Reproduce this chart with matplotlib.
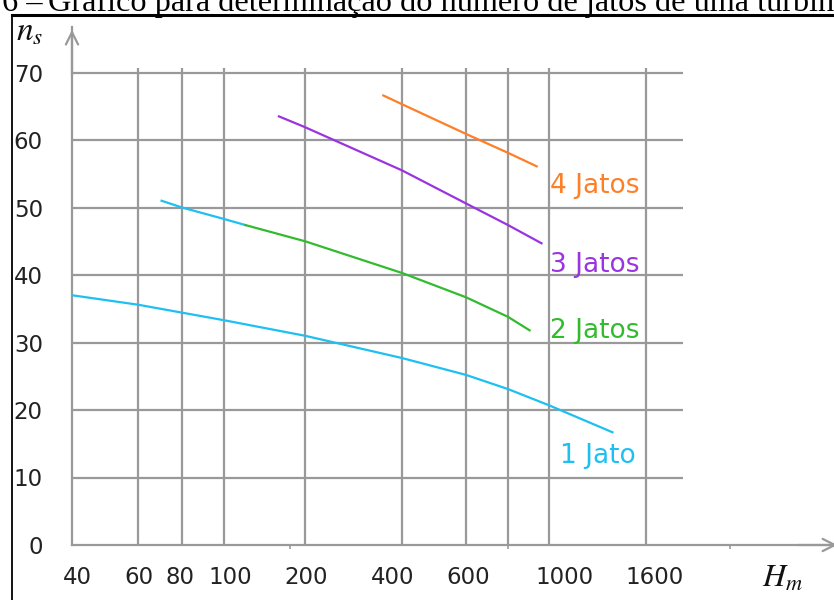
import numpy as np
import matplotlib
matplotlib.use("Agg")
import matplotlib.pyplot as plt
from matplotlib.lines import Line2D
from matplotlib.transforms import ScaledTranslation

plt.rcParams["font.family"] = ["DejaVu Sans"]
plt.rcParams["mathtext.fontset"] = "stix"

# ---- data -------------------------------------------------------------
# heads (m) where the jet-count curves are read, and specific speeds n_s
h_1jato = [40, 60, 100, 200, 400, 600, 800, 1000, 1360]
ns_1jato = [37.0, 35.6, 33.3, 31.0, 27.7, 25.2, 23.1, 20.7, 16.7]

h_2jatos_top = [70, 80, 100, 120]
ns_2jatos_top = [51.0, 50.0, 48.3, 47.4]

h_2jatos = [120, 200, 400, 600, 800, 900]
ns_2jatos = [47.4, 45.0, 40.3, 36.7, 33.8, 31.8]

h_3jatos = [160, 200, 400, 600, 800, 960]
ns_3jatos = [63.5, 61.9, 55.5, 50.6, 47.4, 44.7]

h_4jatos = [350, 400, 600, 800, 935]
ns_4jatos = [66.6, 65.3, 60.9, 58.1, 56.1]

x_ticks = [40, 60, 80, 100, 200, 400, 600, 1000, 1600]
x_grid = [60, 80, 100, 200, 400, 600, 800, 1000, 1600]
y_ticks = [0, 10, 20, 30, 40, 50, 60, 70]

series_labels = ["1 Jato", "2 Jatos", "3 Jatos", "4 Jatos"]
series_colors = ["#1ec0f2", "#33bb2e", "#9a34e0", "#ff7f27"]

# ---- non-uniform logarithmic head axis ---------------------------------
knot_h = np.array([10, 40, 60, 80, 100, 200, 400, 600, 800, 1000, 1600, 10000], float)
knot_pos = np.array([-154, 72, 138, 182, 224, 305, 402, 466, 508, 549, 646, 1024], float)
knot_log = np.log10(knot_h)


def head_forward(h):
    h = np.asarray(h, float)
    return np.interp(np.log10(np.clip(h, 1e-9, None)), knot_log, knot_pos)


def head_inverse(p):
    p = np.asarray(p, float)
    return 10 ** np.interp(p, knot_pos, knot_log)


W, H = 834, 600
fig = plt.figure(figsize=(W / 100, H / 100), dpi=100)

x0_px, y0_px, top_px = 72, 545, 27
ax = fig.add_axes([x0_px / W, (H - y0_px) / H, (W - x0_px) / W, (y0_px - top_px) / H])
ax.set_xscale("function", functions=(head_forward, head_inverse))
ax.set_xlim(40, float(head_inverse(W)))
px_per_unit = 67.5 / 10
ax.set_ylim(0, (y0_px - top_px) / px_per_unit)
ax.patch.set_alpha(0)

grid_c = "#999999"
for s in ["top", "right"]:
    ax.spines[s].set_visible(False)
for s in ["left", "bottom"]:
    ax.spines[s].set_color(grid_c)
    ax.spines[s].set_linewidth(1.6)

# grid, limited to the chart area
grid_right = float(head_inverse(683))
grid_top = 70 + 5 / px_per_unit
ax.hlines(y_ticks[1:], 40, grid_right, color=grid_c, lw=1.6, zorder=1)
ax.vlines(x_grid, 0, grid_top, color=grid_c, lw=1.6, zorder=1)

# axis arrows
ax.annotate("", xy=(0, 1.0), xytext=(0, 0.9), xycoords="axes fraction",
            arrowprops=dict(arrowstyle="->", color=grid_c, lw=1.6, mutation_scale=22),
            annotation_clip=False)
ax.annotate("", xy=(1.008, 0), xytext=(0.95, 0), xycoords="axes fraction",
            arrowprops=dict(arrowstyle="->", color=grid_c, lw=1.6, mutation_scale=22),
            annotation_clip=False)

# ticks
ax.set_xticks(x_ticks)
ax.set_xticklabels([str(v) for v in x_ticks])
ax.set_xticks([40, 80, 176, 800, 2400], minor=True)
ax.set_yticks(y_ticks)
ax.tick_params(axis="x", which="major", length=0, pad=15, labelsize=16.5, colors="#222222")
ax.tick_params(axis="x", which="minor", length=3, width=1.2, color=grid_c, direction="out")
ax.tick_params(axis="y", length=0, pad=21, labelsize=16.5, colors="#222222")

# small horizontal nudges of the head labels (pixels)
label_shift = [5, 1, -2, 6, 1, -9, 2, 15, 9]
for lab, dx in zip(ax.get_xticklabels(), label_shift):
    lab.set_transform(lab.get_transform() + ScaledTranslation(dx / 100, 0, fig.dpi_scale_trans))

# curves
lw = 1.6
ax.plot(h_1jato, ns_1jato, color=series_colors[0], lw=lw, zorder=3)
ax.plot(h_2jatos_top, ns_2jatos_top, color=series_colors[0], lw=lw, zorder=3)
ax.plot(h_2jatos, ns_2jatos, color=series_colors[1], lw=lw, zorder=3)
ax.plot(h_3jatos, ns_3jatos, color=series_colors[2], lw=lw, zorder=3)
ax.plot(h_4jatos, ns_4jatos, color=series_colors[3], lw=lw, zorder=3)

# curve labels
label_pos = [(1055, 12.1), (1005, 30.6), (1005, 40.4), (1005, 52.2)]
for (lx, ly), txt, c in zip(label_pos, series_labels, series_colors):
    ax.text(lx, ly, txt, color=c, fontsize=19, ha="left", va="baseline", zorder=4)

# axis titles
fig.text(30 / W, 1 - 31 / H, r"$n_s$", fontsize=24, ha="center", va="center", color="#111111")
fig.text(783 / W, 1 - 578 / H, r"$H_m$", fontsize=23, ha="center", va="center", color="#111111")

# frame and caption
fig.add_artist(Line2D([12 / W, 1], [1 - 14.5 / H, 1 - 14.5 / H], color="black", lw=2.2,
                      transform=fig.transFigure))
fig.add_artist(Line2D([12 / W, 12 / W], [1 - 14.5 / H, 0], color="black", lw=1.3,
                      transform=fig.transFigure))
fig.text(42 / W, 1 - 11 / H, "Figura 6 –", fontsize=23.2, family="Liberation Serif",
         ha="right", va="baseline")
fig.text(48 / W, 1 - 11 / H, "Gráfico para determinação do número de jatos de uma turbina",
         fontsize=23.2, family="Liberation Serif", ha="left", va="baseline")

fig.savefig("out.png", dpi=100)
